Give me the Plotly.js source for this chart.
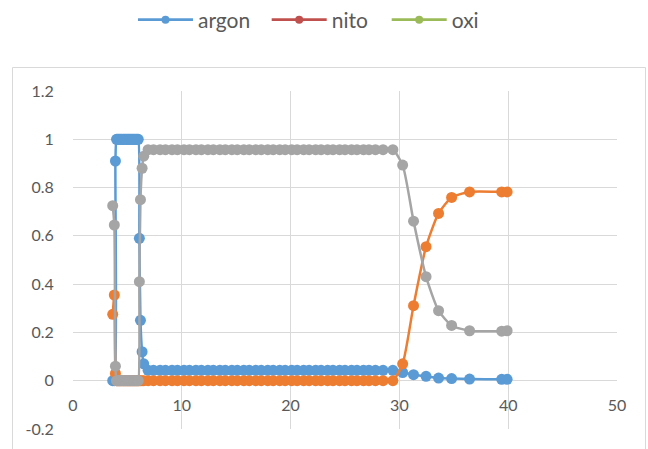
<!DOCTYPE html>
<html>
<head>
<meta charset="utf-8">
<script src="https://cdn.plot.ly/plotly-3.0.1.min.js"></script>
<style>html,body{margin:0;padding:0;background:#fff;}#chart{width:648px;height:449px;}</style>
</head>
<body>
<div id="chart"></div>
<script>
// Time axis (x) values
var xVals = [3.65, 3.8, 3.9,
  4.0, 4.1, 4.2, 4.3, 4.4, 4.5, 4.6, 4.7, 4.8, 4.9, 5.0, 5.1, 5.2, 5.3, 5.4, 5.5, 5.6, 5.7, 5.8, 5.9, 6.0,
  6.1, 6.2, 6.35, 6.5,
  6.9, 7.4, 8.0, 8.5, 9.1, 9.6, 10.2, 10.7, 11.3, 11.8, 12.4, 12.9, 13.5, 14.0, 14.6, 15.1, 15.7, 16.2, 16.8, 17.3,
  17.9, 18.4, 19.0, 19.5, 20.1, 20.6, 21.2, 21.7, 22.3, 22.8, 23.4, 23.9, 24.5, 25.0, 25.6, 26.1, 26.7, 27.2, 27.8, 28.5, 29.4,
  30.3, 31.3, 32.45, 33.6, 34.8, 36.45, 39.4, 39.9];

var argon = [0, 0, 0.91,
  1, 1, 1, 1, 1, 1, 1, 1, 1, 1, 1, 1, 1, 1, 1, 1, 1, 1, 1, 1, 1,
  0.59, 0.25, 0.12, 0.07,
  0.043, 0.043, 0.043, 0.043, 0.043, 0.043, 0.043, 0.043, 0.043, 0.043, 0.043, 0.043, 0.043, 0.043, 0.043, 0.043, 0.043, 0.043, 0.043, 0.043,
  0.043, 0.043, 0.043, 0.043, 0.043, 0.043, 0.043, 0.043, 0.043, 0.043, 0.043, 0.043, 0.043, 0.043, 0.043, 0.043, 0.043, 0.043, 0.043, 0.043, 0.043,
  0.034, 0.025, 0.018, 0.011, 0.009, 0.007, 0.006, 0.006];

var nito = [0.275, 0.355, 0.03,
  0, 0, 0, 0, 0, 0, 0, 0, 0, 0, 0, 0, 0, 0, 0, 0, 0, 0, 0, 0, 0,
  0, 0, 0, 0,
  0, 0, 0, 0, 0, 0, 0, 0, 0, 0, 0, 0, 0, 0, 0, 0, 0, 0, 0, 0,
  0, 0, 0, 0, 0, 0, 0, 0, 0, 0, 0, 0, 0, 0, 0, 0, 0, 0, 0, 0, 0,
  0.07, 0.311, 0.555, 0.693, 0.759, 0.782, 0.782, 0.782];

var oxi = [0.725, 0.645, 0.06,
  0, 0, 0, 0, 0, 0, 0, 0, 0, 0, 0, 0, 0, 0, 0, 0, 0, 0, 0, 0, 0,
  0.41, 0.75, 0.88, 0.93,
  0.957, 0.957, 0.957, 0.957, 0.957, 0.957, 0.957, 0.957, 0.957, 0.957, 0.957, 0.957, 0.957, 0.957, 0.957, 0.957, 0.957, 0.957, 0.957, 0.957,
  0.957, 0.957, 0.957, 0.957, 0.957, 0.957, 0.957, 0.957, 0.957, 0.957, 0.957, 0.957, 0.957, 0.957, 0.957, 0.957, 0.957, 0.957, 0.957, 0.957, 0.957,
  0.893, 0.661, 0.431, 0.29, 0.229, 0.207, 0.205, 0.207];

var seriesNames = ['argon', 'nito', 'oxi'];
var xTickVals = [0, 10, 20, 30, 40, 50];
var xTickText = ['0', '10', '20', '30', '40', '50'];
var yTickVals = [-0.2, 0, 0.2, 0.4, 0.6, 0.8, 1, 1.2];
var yTickText = ['-0.2', '0', '0.2', '0.4', '0.6', '0.8', '1', '1.2'];

var plotColors = ['#5B9BD5', '#ED7D31', '#A5A5A5'];
var legendColors = ['#5B9BD5', '#C0504D', '#9BBB59'];
var FONT = 'Lato, "Liberation Sans", sans-serif';

var seriesData = [argon, nito, oxi];
var traces = [];
for (var i = 0; i < 3; i++) {
  traces.push({
    type: 'scatter', mode: 'lines+markers', x: xVals, y: seriesData[i], name: seriesNames[i],
    showlegend: false,
    line: {color: plotColors[i], width: 2.5, shape: 'spline', smoothing: 0.6},
    marker: {color: plotColors[i], size: 11}
  });
}
var legendIds = ['legend', 'legend2', 'legend3'];
for (var j = 0; j < 3; j++) {
  traces.push({
    type: 'scatter', mode: 'lines+markers', x: [null], y: [null], name: seriesNames[j],
    showlegend: true, legend: legendIds[j], hoverinfo: 'skip',
    line: {color: legendColors[j], width: 2.75},
    marker: {color: legendColors[j], size: 8}
  });
}

function legendCfg(xpx) {
  return {xref: 'container', yref: 'container', x: xpx / 648, xanchor: 'left',
    y: 1 - 20 / 449, yanchor: 'middle', orientation: 'h',
    bgcolor: 'rgba(0,0,0,0)', borderwidth: 0, itemwidth: 55,
    font: {family: FONT, size: 21, color: '#595959'}};
}

var layout = {
  width: 648, height: 449,
  margin: {l: 73, r: 31, t: 91, b: 20, pad: 0},
  paper_bgcolor: '#ffffff', plot_bgcolor: '#ffffff',
  font: {family: FONT, size: 16, color: '#595959'},
  xaxis: {range: [0, 50], tickmode: 'array', tickvals: xTickVals, ticktext: xTickText,
    showgrid: true, gridcolor: '#D9D9D9', gridwidth: 1, zeroline: false, showline: false,
    ticks: 'outside', ticklen: 10, tickcolor: 'rgba(0,0,0,0)',
    anchor: 'free', position: 0.2 / 1.4,
    tickfont: {family: FONT, size: 16, color: '#595959'}},
  yaxis: {range: [-0.2, 1.2], tickmode: 'array', tickvals: yTickVals, ticktext: yTickText,
    showgrid: true, gridcolor: '#D9D9D9', gridwidth: 1, zeroline: false, showline: false,
    ticks: 'outside', ticklen: 15, tickcolor: 'rgba(0,0,0,0)',
    tickfont: {family: FONT, size: 16, color: '#595959'}},
  legend: legendCfg(133),
  legend2: legendCfg(266.7),
  legend3: legendCfg(386.7),
  shapes: [{type: 'rect', xref: 'paper', yref: 'paper', x0: -0.1112, x1: 1.0524, y0: -0.3, y1: 1.0695,
    line: {color: '#D9D9D9', width: 1}, fillcolor: 'rgba(0,0,0,0)', layer: 'below'}]
};

Plotly.newPlot('chart', traces, layout, {staticPlot: true, displayModeBar: false});
</script>
</body>
</html>
